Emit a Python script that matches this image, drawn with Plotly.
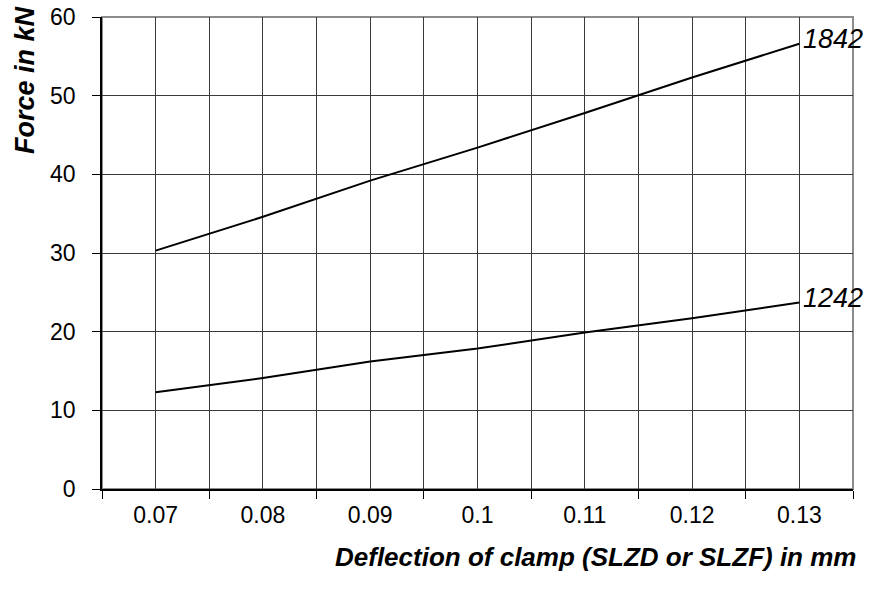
import plotly.graph_objects as go

# Deflection of clamp (mm) and clamping force (kN) for two clamp sizes
deflection = [0.07, 0.08, 0.09, 0.10, 0.11, 0.12, 0.13]
deflection_labels = ["0.07", "0.08", "0.09", "0.1", "0.11", "0.12", "0.13"]
force_1842 = [30.3, 34.6, 39.2, 43.4, 47.8, 52.3, 56.6]
force_1242 = [12.3, 14.1, 16.2, 17.85, 19.9, 21.7, 23.7]
series_names = ["1842", "1242"]

# category boundaries carry the tick marks and the in-between grid lines
boundaries = [round(d - 0.005, 3) for d in deflection] + [round(deflection[-1] + 0.005, 3)]

FONT = "Arial, Liberation Sans, sans-serif"
GRID = "#3a3a3a"

fig = go.Figure()
for name, ys in zip(series_names, [force_1842, force_1242]):
    fig.add_trace(go.Scatter(
        x=deflection, y=ys, mode="lines", name=name,
        line=dict(color="black", width=2), showlegend=False,
    ))
    fig.add_annotation(
        x=deflection[-1], y=ys[-1], xref="x", yref="y",
        text=f"<i>{name}</i>", showarrow=False,
        xanchor="left", yanchor="middle", xshift=2, yshift=5,
        font=dict(family=FONT, size=27, color="black"),
    )

# grey frame on the top and right of the plot area
fig.add_shape(type="rect", xref="paper", yref="paper", x0=0, y0=0, x1=1, y1=1,
              line=dict(color="#8c8c8c", width=2), layer="below")

fig.update_xaxes(
    range=[boundaries[0], boundaries[-1]],
    tickvals=deflection, ticktext=deflection_labels, ticks="",
    showgrid=True, gridcolor=GRID, gridwidth=1,
    minor=dict(tickvals=boundaries, showgrid=True, gridcolor=GRID, gridwidth=1,
               ticks="outside", ticklen=8, tickcolor="black", tickwidth=1),
    showline=True, linecolor="black", linewidth=1.5,
    zeroline=False, automargin=False,
    tickfont=dict(family=FONT, size=23, color="black"),
    ticklabelstandoff=5,
)
fig.update_yaxes(
    range=[0, 60], dtick=10,
    ticks="outside", ticklen=8, tickcolor="black", tickwidth=1,
    showgrid=True, gridcolor=GRID, gridwidth=1,
    showline=True, linecolor="black", linewidth=1.5,
    zeroline=False, automargin=False,
    tickfont=dict(family=FONT, size=23, color="black"),
    ticklabelstandoff=12,
)

fig.add_annotation(
    text="<b><i>Force in kN</i></b>", xref="paper", yref="paper",
    x=(25 - 102) / 751, y=(489 - 80) / 472, textangle=-90,
    xanchor="center", yanchor="middle", showarrow=False,
    font=dict(family=FONT, size=27, color="black"),
)
fig.add_annotation(
    text="<b><i>Deflection of clamp (SLZD or SLZF) in mm</i></b>", xref="paper", yref="paper",
    x=(858 - 102) / 751, y=(489 - 557) / 472,
    xanchor="right", yanchor="middle", showarrow=False,
    font=dict(family=FONT, size=26, color="black"),
)

fig.update_layout(
    width=881, height=590,
    margin=dict(l=102, r=28, t=17, b=101),
    plot_bgcolor="white", paper_bgcolor="white",
    font=dict(family=FONT, color="black"),
)

fig.write_html("out.html")
